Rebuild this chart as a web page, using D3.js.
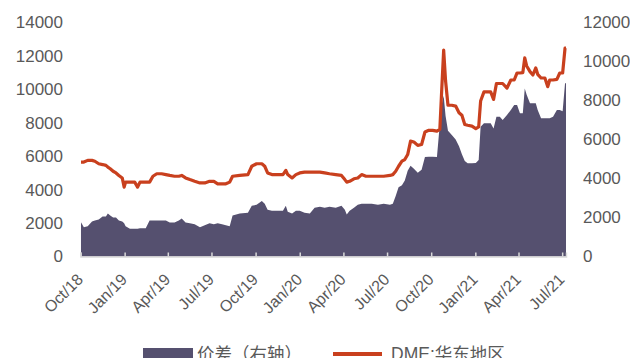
<!DOCTYPE html>
<html><head><meta charset="utf-8">
<script src="https://cdn.jsdelivr.net/npm/d3@7"></script>
<style>
html,body{margin:0;padding:0;background:#fff;overflow:hidden;}
svg{display:block;font-family:"Liberation Sans",Arial,"Noto Sans CJK SC",sans-serif;}
</style></head>
<body>
<svg id="chart" width="630" height="358"></svg>
<script>
const dates = ["2018-10-02","2018-10-08","2018-10-16","2018-10-25","2018-10-31","2018-11-08","2018-11-16","2018-11-23","2018-11-27","2018-12-02","2018-12-08","2018-12-14","2018-12-20","2018-12-27","2018-12-31","2019-01-03","2019-01-12","2019-01-22","2019-01-28","2019-02-02","2019-02-14","2019-02-22","2019-03-01","2019-03-09","2019-03-19","2019-03-28","2019-04-05","2019-04-15","2019-04-24","2019-04-30","2019-05-08","2019-05-17","2019-05-27","2019-06-07","2019-06-17","2019-06-27","2019-07-06","2019-07-14","2019-07-23","2019-07-31","2019-08-08","2019-08-14","2019-08-29","2019-09-15","2019-09-23","2019-10-03","2019-10-14","2019-10-20","2019-10-26","2019-11-04","2019-11-16","2019-11-27","2019-12-03","2019-12-07","2019-12-16","2019-12-24","2020-01-01","2020-01-11","2020-01-22","2020-02-01","2020-02-12","2020-02-22","2020-03-03","2020-03-16","2020-03-28","2020-04-04","2020-04-08","2020-04-14","2020-04-23","2020-05-01","2020-05-09","2020-05-18","2020-05-30","2020-06-12","2020-06-24","2020-07-07","2020-07-13","2020-07-19","2020-07-25","2020-08-01","2020-08-07","2020-08-13","2020-08-19","2020-08-26","2020-09-03","2020-09-11","2020-09-18","2020-09-26","2020-10-04","2020-10-13","2020-10-19","2020-10-23","2020-10-27","2020-10-31","2020-11-05","2020-11-13","2020-11-21","2020-11-28","2020-12-04","2020-12-10","2020-12-16","2020-12-25","2021-01-02","2021-01-08","2021-01-12","2021-01-19","2021-01-27","2021-02-02","2021-02-08","2021-02-14","2021-02-21","2021-02-27","2021-03-08","2021-03-16","2021-03-23","2021-03-29","2021-04-04","2021-04-10","2021-04-14","2021-04-18","2021-04-25","2021-05-01","2021-05-07","2021-05-11","2021-05-18","2021-05-26","2021-06-01","2021-06-05","2021-06-12","2021-06-20","2021-06-26","2021-07-02","2021-07-07","2021-07-09"];

const dme = [5650,5650,5750,5750,5700,5550,5500,5450,5350,5250,5100,5000,4850,4700,4150,4450,4450,4450,4150,4450,4450,4450,4800,4950,4950,4900,4850,4800,4800,4850,4700,4600,4500,4400,4400,4500,4500,4350,4350,4350,4450,4800,4850,4900,5400,5550,5550,5400,5000,4900,4900,4900,5150,4900,4700,4900,5000,5050,5050,5050,5050,5000,4950,4900,4850,4600,4450,4500,4650,4700,4900,4800,4800,4800,4800,4850,4900,5100,5400,5700,5800,6100,6900,6850,6650,6700,7450,7550,7550,7500,7600,10000,12350,10500,9050,9050,9000,8600,8450,7900,7850,7800,7650,7750,9300,9850,9850,9850,9400,10350,10350,10350,10080,10560,10560,10980,10980,11000,11880,11400,11060,10860,11280,10900,10680,10680,10160,10560,10560,10600,10980,10980,12470,12470];

const spread = [1760,1500,1550,1800,1850,1900,2050,2050,2200,2100,2000,2000,1850,1800,1700,1550,1420,1420,1420,1450,1450,1850,1850,1850,1850,1850,1750,1750,1850,1950,1750,1700,1650,1500,1600,1700,1650,1700,1650,1600,1550,2100,2200,2250,2600,2650,2850,2700,2400,2350,2350,2350,2600,2300,2200,2350,2350,2250,2200,2500,2550,2500,2550,2500,2600,2400,2150,2350,2500,2650,2700,2700,2700,2650,2700,2650,2700,3100,3550,3650,3900,4400,4650,4500,4300,4450,5100,5120,5120,5100,6800,7800,8250,7200,6450,6230,6000,5650,5250,4900,4780,4780,4800,4950,6650,6830,6830,6830,6570,7170,7170,7000,7260,7510,7770,7770,7340,7340,8620,8300,7860,7860,7860,7510,7090,7090,7090,7090,7170,7510,7510,7450,8880,8880];

const leftTicks = [0,2000,4000,6000,8000,10000,12000,14000];
const rightTicks = [0,2000,4000,6000,8000,10000,12000];
const xTickDates = ["2018-10-01","2019-01-01","2019-04-01","2019-07-01","2019-10-01","2020-01-01","2020-04-01","2020-07-01","2020-10-01","2021-01-01","2021-04-01","2021-07-01"];
const xTickLabels = ["Oct/18","Jan/19","Apr/19","Jul/19","Oct/19","Jan/20","Apr/20","Jul/20","Oct/20","Jan/21","Apr/21","Jul/21"];
const seriesNames = ["价差（右轴）","DME:华东地区"];

const parse = d3.utcParse("%Y-%m-%d");
const data = dates.map((d,i)=>({date:parse(d), dme:dme[i], spread:spread[i]}));

const svg = d3.select("#chart");
const x = d3.scaleUtc().domain([parse("2018-10-01"), parse("2021-07-09")]).range([80.5, 566]);
const yL = d3.scaleLinear().domain([0,14000]).range([256.5, 22.5]);
const yR = d3.scaleLinear().domain([0,12000]).range([256.5, 22.5]);

const areaColor = "#55506F", lineColor = "#C9401E", textColor = "#595959";

svg.append("path").datum(data)
  .attr("fill", areaColor)
  .attr("d", d3.area().x(d=>x(d.date)).y0(yR(0)).y1(d=>yR(d.spread)));

svg.append("path").datum(data)
  .attr("fill","none").attr("stroke",lineColor).attr("stroke-width",3.2)
  .attr("stroke-linejoin","round")
  .attr("d", d3.line().x(d=>x(d.date)).y(d=>yL(d.dme)));

// x axis
const xa = svg.append("g").attr("transform","translate(0,256.5)")
  .call(d3.axisBottom(x).tickValues(xTickDates.map(parse)).tickSize(-4).tickFormat((d,i)=>xTickLabels[i]));
xa.select(".domain").attr("stroke","#d9d9d9").attr("stroke-width",1.5);
xa.selectAll(".tick line").attr("stroke","#d9d9d9").attr("stroke-width",1.5);
xa.selectAll(".tick text")
  .attr("fill",textColor).attr("font-size",16).attr("text-anchor","end")
  .attr("x",0).attr("y",0).attr("dx",0).attr("dy",0)
  .attr("transform","translate(3,24) rotate(-45)");

// left axis
const la = svg.append("g").attr("transform","translate(70,0)")
  .call(d3.axisLeft(yL).tickValues(leftTicks).tickSize(0).tickPadding(7).tickFormat(d3.format("d")));
la.select(".domain").remove();
la.selectAll("text").attr("fill",textColor).attr("font-size",17);

// right axis
const ra = svg.append("g").attr("transform","translate(576,0)")
  .call(d3.axisRight(yR).tickValues(rightTicks).tickSize(0).tickPadding(7).tickFormat(d3.format("d")));
ra.select(".domain").remove();
ra.selectAll("text").attr("fill",textColor).attr("font-size",17);

// legend
const lg = svg.append("g");
lg.append("rect").attr("x",143).attr("y",348).attr("width",50).attr("height",14).attr("fill",areaColor);
lg.append("text").attr("x",197).attr("y",360).attr("fill",textColor).attr("font-size",17.5).text(seriesNames[0]);
lg.append("line").attr("x1",333).attr("x2",382).attr("y1",354).attr("y2",354).attr("stroke",lineColor).attr("stroke-width",4);
lg.append("text").attr("x",391).attr("y",360).attr("fill",textColor).attr("font-size",17.5).text(seriesNames[1]);
</script>
</body></html>
